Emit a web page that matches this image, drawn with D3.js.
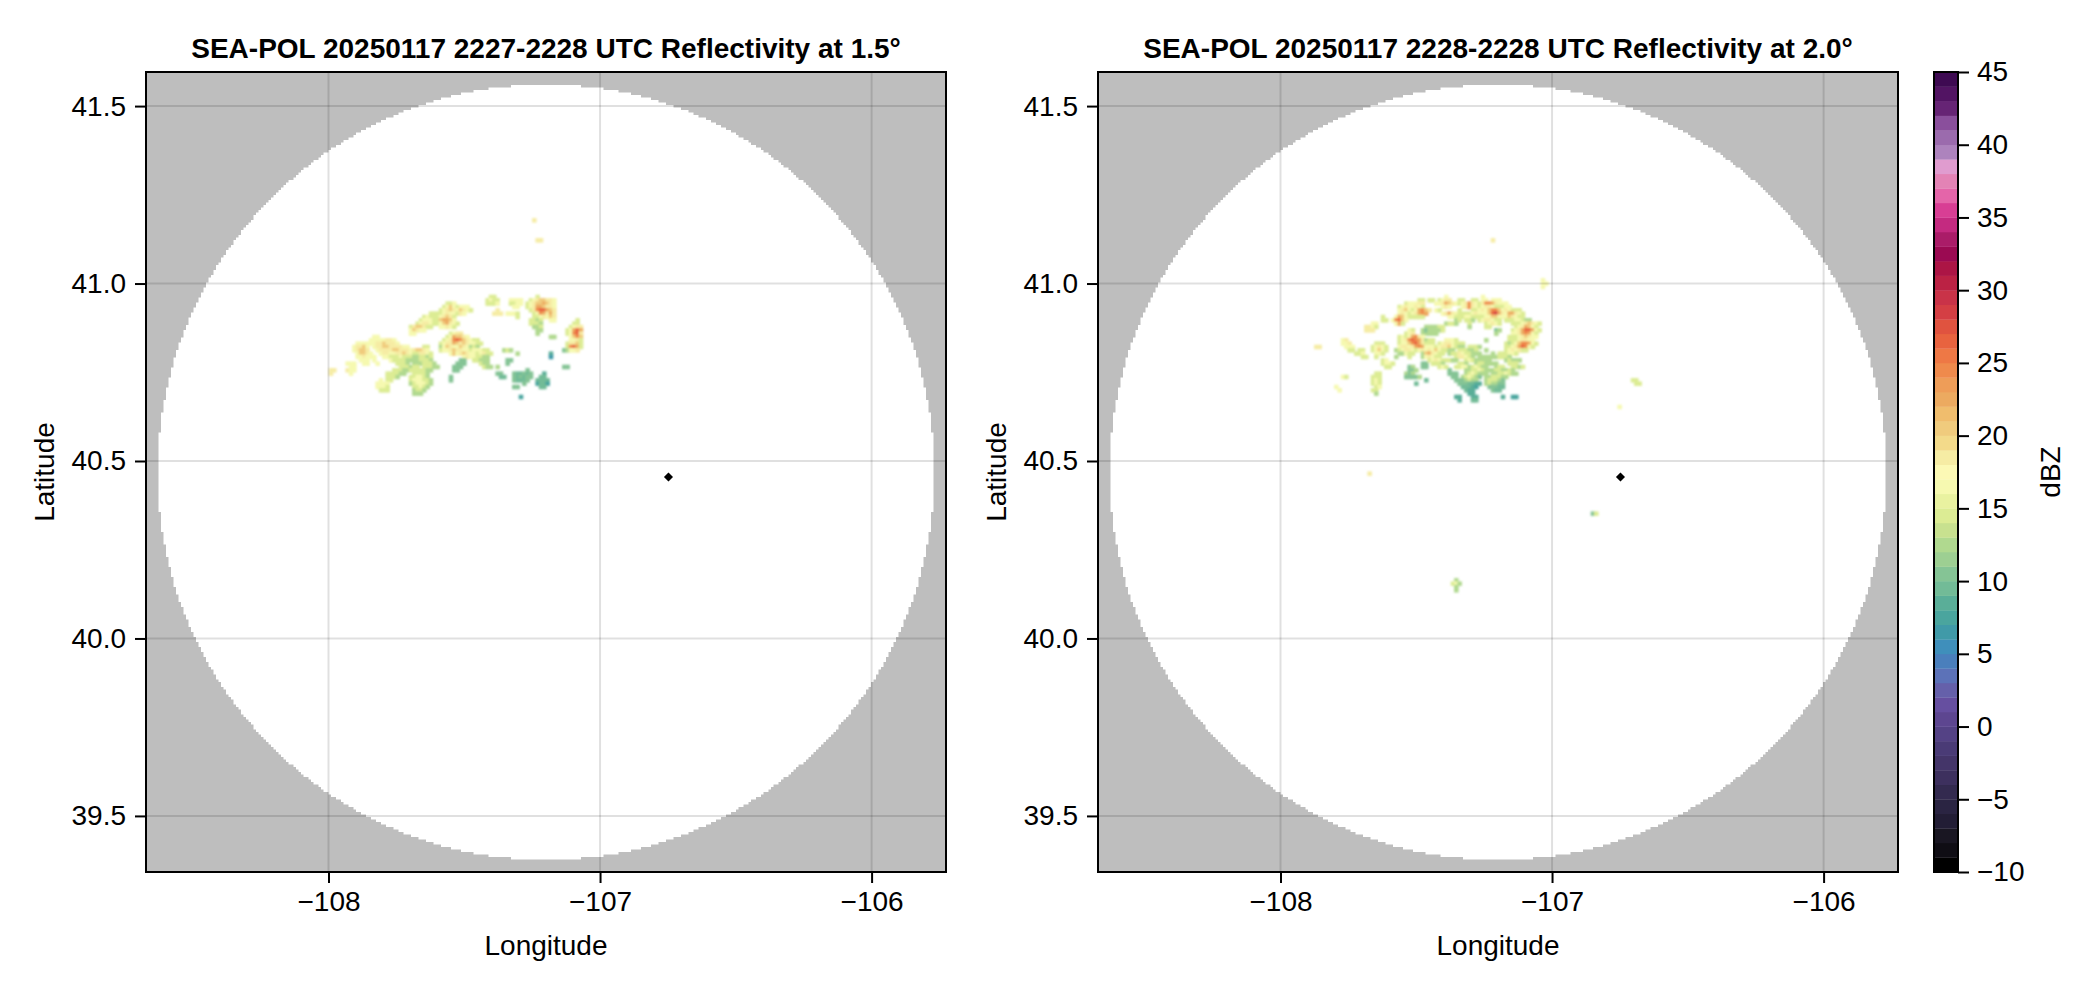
<!DOCTYPE html>
<html><head><meta charset="utf-8">
<script src="https://cdn.jsdelivr.net/npm/d3@7"></script>
<style>html,body{margin:0;background:#fff}svg{display:block}text{font-family:"Liberation Sans",Arial,sans-serif;fill:#000}</style>
</head><body><svg id="c" width="2096" height="990"><defs>
<filter id="soft" x="-5%" y="-5%" width="110%" height="110%"><feGaussianBlur stdDeviation="1.0"/></filter>
<filter id="softEdge" x="-5%" y="-5%" width="110%" height="110%"><feGaussianBlur stdDeviation="0.5"/></filter>
<clipPath id="plotClip"><rect width="800" height="800"/></clipPath>
</defs></svg>
<script>
const titles=["SEA-POL 20250117 2227-2228 UTC Reflectivity at 1.5°","SEA-POL 20250117 2228-2228 UTC Reflectivity at 2.0°"];
const lonTicks=[-108,-107,-106];
const latTicks=[39.5,40.0,40.5,41.0,41.5];
const dbzTicks=[-10,-5,0,5,10,15,20,25,30,35,40,45];
const lonDomain=[-108.672,-105.726];
const latDomain=[39.342,41.596];
const radarSite=[-106.748,40.455];
const rangeCentre=[-107.199,40.469];
const rangeLon=1.43, rangeLat=1.093;
const gridCells=240, maskCells=320;
// one colour per 1 dBZ bin, -10 upward
const binColors=["#000000","#0f0d14","#191622","#221d35","#2a2442","#332a4f","#3d305e","#443569","#4a3b76","#544285","#5d4690","#664fa0","#6560aa","#5c72b8","#4a7fbc","#3f8fbb","#409aa8","#4aa59e","#5aae98","#72bb97","#85c495","#9dcf92","#b0d98f","#c8e18f","#dcec94","#e9f2a0","#f6f9b0","#fcf9b5","#f6eca4","#f3da8a","#f0cb7d","#f0bd6d","#ecaa60","#ee9d58","#ef8a4c","#ee7845","#e8633f","#e0533f","#d43f44","#c93348","#bb2244","#ac1545","#9b0a52","#aa1c68","#c42a80","#d83e94","#e465a9","#e383b5","#e09ccf","#ad83bd","#9b6bad","#8a4f9c","#662475","#521463","#3e0a52"];
// echoes: [row, col, dBZ per cell in base-36], row/col relative to the block origin
const originA=[65,55];
const echoesA=[[-21,61,"h"],[-15,62,"hh"],
[2,48,"dd"],[2,62,"d"],
[3,47,"dfdd"],[3,54,"ffff"],[3,60,"dfhjjh"],[3,66,"hf"],
[4,35,"ddf"],[4,47,"dddf"],[4,54,"ddff"],[4,59,"dfhjjlj"],[4,66,"hf"],
[5,34,"dfjfd"],[5,39,"fff"],[5,55,"ff"],[5,59,"dfhlljh"],[5,66,"hf"],
[6,33,"dfhjhf"],[6,39,"jhfd"],[6,50,"h"],[6,60,"dhnppl"],[6,66,"jh"],
[7,30,"ddddfhffd"],[7,39,"hf"],[7,49,"hhh"],[7,53,"fff"],[7,56,"d"],[7,61,"dfnlh"],[7,66,"lh"],
[8,28,"dfdddfhjhd"],[8,56,"d"],[8,61,"ddfhf"],[8,66,"jh"],
[9,27,"dfffddjlljf"],[9,60,"ddb"],[9,63,"d"],[9,66,"ff"],[9,74,"d"],
[10,26,"dfhhfddfjlhfd"],[10,60,"dddb"],[10,73,"dd"],
[11,24,"dhjjhdd"],[11,33,"ffhfd"],[11,61,"bbd"],[11,72,"dfhh"],
[12,24,"fjhff"],[12,62,"bb"],[12,71,"dflpl"],
[13,24,"ff"],[13,36,"dfhh"],[13,62,"b"],[13,71,"dfnph"],
[14,13,"ff"],[14,35,"dfljl"],[14,39,"jhf"],[14,66,"bb"],[14,72,"fjnj"],
[15,12,"ffff"],[15,16,"fhhf"],[15,34,"dfhnpnjhfdd"],[15,72,"ffhd"],
[16,8,"ffff"],[16,12,"ffhhjhhhf"],[16,33,"dfhhljhjhffdd"],[16,71,"dhhjd"],
[17,7,"fhhjf"],[17,13,"fhhjjhhhhff"],[17,28,"dd"],[17,33,"bfjhffjhfbdb"],[17,71,"dnpld"],
[18,7,"fhjjh"],[18,14,"fhhhhjjhhhfhjjhf"],[18,33,"dffhjhhffdfffdd"],[18,52,"bdb"],[18,70,"9b"],[18,72,"ffh"],
[19,8,"fjjhf"],[19,15,"fhhffhhjhfddhhfd"],[19,36,"fjfhjhffdfhdd"],[19,56,"b"],[19,66,"7"],
[20,8,"ffhf"],[20,12,"ff"],[20,16,"ffdddfdddbbddbd"],[20,40,"fhffddbb"],[20,66,"5"],
[21,9,"fff"],[21,13,"f"],[21,18,"fddddbb"],[21,25,"bbdddb"],[21,39,"99"],[21,43,"ddbbb"],[21,53,"99"],
[22,5,"fff"],[22,10,"ff"],[22,14,"f"],[22,20,"dddb"],[22,25,"bbb"],[22,28,"dddb"],[22,38,"999"],[22,45,"dbb"],[22,53,"9"],
[23,6,"ff"],[23,21,"dddb"],[23,25,"dd"],[23,28,"dddbb"],[23,37,"999"],[23,46,"dbb"],[23,50,"b"],[23,70,"99"],
[24,0,"hh"],[24,5,"hff"],[24,19,"dddbb"],[24,24,"dddddb"],[24,30,"b"],[24,37,"99"],[24,59,"9"],
[25,0,"h"],[25,6,"f"],[25,17,"ddddbb"],[25,25,"dddd"],[25,29,"b"],[25,50,"99"],[25,55,"988989"],[25,64,"7"],
[26,17,"dddb"],[26,24,"ddffdb"],[26,36,"9"],[26,51,"88"],[26,55,"989899"],[26,63,"88"],
[27,15,"f"],[27,17,"dd"],[27,24,"dfffddb"],[27,36,"9"],[27,55,"98889"],[27,62,"8888"],
[28,14,"ffff"],[28,24,"bdfffd"],[28,30,"b"],[28,58,"9"],[28,62,"6886"],
[29,14,"fffd"],[29,25,"ddfdb"],[29,55,"99"],[29,63,"88"],
[30,15,"ddd"],[30,25,"bddb"],
[31,25,"bbb"],
[32,57,"6"]];
const originB=[62,64];
const echoesB=[[-12,54,"h"],[0,69,"f"],[1,69,"ff"],[2,69,"f"],
[6,32,"dd"],[7,28,"dff"],[7,31,"fhh"],[8,26,"dfhf"],[8,30,"fhfd"],
[9,26,"fhjf"],[9,30,"dflnn"],[10,26,"fhf"],[10,29,"dfhln"],[11,21,"d"],[11,25,"fljf"],[11,29,"ddddd"],
[12,21,"dd"],[12,24,"fnpjf"],[13,18,"ff"],[13,25,"fld"],[14,16,"hhfd"],[15,16,"hhh"],
[15,29,"fd"],[15,33,"bb"],[16,28,"dfh"],[16,33,"bb"],[17,26,"dfdflnhf"],
[18,9,"fh"],[18,26,"dfhnpnlh"],[19,9,"ffh"],[19,19,"ddd"],[19,26,"dffjnplh"],
[20,1,"hh"],[20,10,"fff"],[20,18,"dfhfd"],[20,26,"fhhfhlnl"],
[21,11,"dd"],[21,14,"dd"],[21,18,"dfjfd"],[21,25,"bdfhhfdfh"],
[22,13,"ddf"],[22,19,"ffd"],[22,26,"bbfdd"],[22,33,"bd"],
[23,15,"dd"],[23,19,"d"],[23,25,"b"],[23,29,"d"],[23,33,"b"],
[24,21,"df"],[25,21,"dffd"],[25,33,"99"],[26,22,"dd"],[26,29,"9b"],[26,33,"99"],
[27,29,"99b"],[28,19,"dd"],[28,28,"b9b"],[29,9,"fd"],[29,18,"ddd"],[29,28,"9999b"],
[30,18,"dfd"],[30,34,"8"],[31,18,"dfd"],[31,31,"8"],[32,7,"f"],[32,19,"df"],[33,8,"f"],[33,18,"dd"],[34,19,"b"],
[30,96,"dd"],[31,97,"dd"],[38,92,"f"],[70,84,"9"],[70,85,"d"],[58,17,"h"],
[90,43,"b"],[91,42,"dfb"],[92,43,"b"],[93,43,"b"]];
const originBEast=[62,98];
const echoesBEast=[[5,6,"f"],[5,17,"f"],
[6,1,"dd"],[6,4,"dfhh"],[6,10,"dd"],[6,14,"dd"],[6,17,"ff"],[6,20,"fff"],
[7,3,"ffhljhf"],[7,10,"dfhnhfdhnnlhfff"],
[8,5,"fhf"],[8,11,"fhnhfdfhhfdddff"],
[9,0,"jh"],[9,3,"fd"],[9,10,"d"],[9,14,"ddfhfjnnjfhfddd"],
[10,0,"l"],[10,5,"fhlhfd"],[10,11,"dddfhfffjprlhfllhfd"],
[11,7,"ffd"],[11,10,"ddffdddd"],[11,18,"ffjjfffjhfdd"],
[12,9,"bd"],[12,12,"ddb"],[12,16,"dfhhfdd"],[12,24,"dddffdbb"],
[13,6,"bddb"],[13,13,"d"],[13,18,"dfhfd"],[13,26,"dddfhjhfd"],
[14,0,"bbbbdd"],[14,13,"b"],[14,18,"dd"],[14,27,"dfhljfd"],
[15,0,"9bbbbd"],[15,21,"9b"],[15,26,"dfhlpplfd"],
[16,1,"bbb"],[16,21,"b"],[16,26,"ffhlnlfd"],
[17,25,"dddfhjhff"],
[18,0,"bdd"],[18,6,"fffd"],[18,18,"b"],[18,25,"dddfhhff"],
[19,0,"ddd"],[19,4,"dfhhfddd"],[19,24,"dbdfjnnlfd"],
[20,0,"fffdfhhjfdbb"],[20,13,"dddb"],[20,24,"ddfhlpnfd"],
[21,0,"fhfjfddbb"],[21,10,"dddbbd"],[21,18,"b"],[21,24,"dfhfhdd"],
[22,0,"jlhfdd"],[22,7,"bddhfddbbb"],[22,20,"b"],[22,22,"dddffd"],
[23,0,"fhfdd"],[23,9,"dhhfdb"],[23,16,"bbbbbb"],[23,22,"dddb"],
[24,1,"dfhfd"],[24,6,"ddbb"],[24,12,"dfdbbbbb"],[24,24,"bdbb"],[24,28,"b"],
[25,2,"dddb"],[25,10,"ddb"],[25,15,"bddbbbb"],[25,25,"ddd"],
[26,4,"dfd"],[26,9,"ddffbdfdbb"],[26,21,"bdd"],[26,26,"ddbd"],
[27,7,"9"],[27,12,"bbddfdbbbddbbdb"],
[28,7,"999"],[28,12,"bdfdbbb"],[28,20,"bbddfdbb"],
[29,8,"99"],[29,11,"bdfdb9"],[29,18,"bbdddbb"],
[30,9,"999"],[30,12,"bdbb"],[30,18,"bdddb9"],
[31,10,"9998877"],[31,18,"bdbb99"],
[32,11,"8887"],[32,15,"6"],[32,19,"99988"],
[33,12,"877"],[33,20,"988"],
[34,13,"77"],
[35,9,"77"],[35,14,"77"],[35,23,"7"],[35,26,"66"],
[36,10,"7"],[36,14,"88"]];

const svg=d3.select("#c");
const panels=[
 {x0:146,title:titles[0],blocks:[[originA,echoesA]]},
 {x0:1098,title:titles[1],blocks:[[originB,echoesB],[originBEast,echoesBEast]]}];
const W=800,H=800,Y0=72,FS=28;
const color=d3.scaleQuantize().domain([-10,45]).range(binColors);
const gridStroke="rgba(0,0,0,0.12)";

panels.forEach(p=>{
  const g=svg.append("g").attr("transform",`translate(${p.x0},${Y0})`);
  const x=d3.scaleLinear().domain(lonDomain).range([0,W]);
  const y=d3.scaleLinear().domain(latDomain).range([H,0]);
  const colLon=d3.scaleLinear().domain([0,gridCells]).range(lonDomain);
  const rowLat=d3.scaleLinear().domain([0,gridCells]).range([latDomain[1],latDomain[0]]);
  const mColLon=d3.scaleLinear().domain([0,maskCells]).range(lonDomain);
  const mRowLat=d3.scaleLinear().domain([0,maskCells]).range([latDomain[1],latDomain[0]]);
  // grey outside the radar range
  const mask=d3.path();
  for(let r=-4;r<maskCells+4;r++){
    const la=mRowLat(r+.5);
    let start=null;
    for(let c=-4;c<=maskCells+4;c++){
      const lo=mColLon(c+.5);
      const out=c<maskCells+4&&(((lo-rangeCentre[0])/rangeLon)**2+((la-rangeCentre[1])/rangeLat)**2>1);
      if(out&&start===null)start=c;
      if(!out&&start!==null){
        mask.rect(x(mColLon(start)),y(mRowLat(r)),x(mColLon(c))-x(mColLon(start)),y(mRowLat(r+1))-y(mRowLat(r))+.4);
        start=null;
      }
    }
  }
  g.append("g").attr("clip-path","url(#plotClip)").append("path").attr("d",mask.toString()).attr("fill","#bebebe").attr("filter","url(#softEdge)");
  // echoes
  const cells=[];
  p.blocks.forEach(([o,rows])=>rows.forEach(([r,c,s])=>{
    [...s].forEach((ch,i)=>cells.push({row:o[0]+r,col:o[1]+c+i,v:parseInt(ch,36)+1}));
  }));
  const pad=0.6;
  g.append("g").attr("filter","url(#soft)").selectAll("rect").data(cells).join("rect")
    .attr("x",d=>x(colLon(d.col))-pad).attr("y",d=>y(rowLat(d.row))-pad)
    .attr("width",d=>x(colLon(d.col+1))-x(colLon(d.col))+2*pad)
    .attr("height",d=>y(rowLat(d.row+1))-y(rowLat(d.row))+2*pad)
    .attr("fill",d=>color(d.v+.5));
  // grid
  g.append("g").selectAll("line").data(lonTicks).join("line")
    .attr("x1",d=>x(d)).attr("x2",d=>x(d)).attr("y1",0).attr("y2",H)
    .attr("stroke",gridStroke).attr("stroke-width",2);
  g.append("g").selectAll("line").data(latTicks).join("line")
    .attr("x1",0).attr("x2",W).attr("y1",d=>y(d)).attr("y2",d=>y(d))
    .attr("stroke",gridStroke).attr("stroke-width",2);
  // radar site
  g.append("path").attr("d",d3.symbol().type(d3.symbolDiamond2).size(52)())
    .attr("transform",`translate(${x(radarSite[0])},${y(radarSite[1])})`).attr("fill","#000");
  // frame
  g.append("rect").attr("width",W).attr("height",H).attr("fill","none").attr("stroke","#000").attr("stroke-width",2);
  // axes
  const ax=g.append("g").attr("transform",`translate(0,${H})`)
    .call(d3.axisBottom(x).tickValues(lonTicks).tickFormat(d3.format("d")).tickSize(11).tickPadding(8));
  const ay=g.append("g").call(d3.axisLeft(y).tickValues(latTicks).tickFormat(d3.format(".1f")).tickSize(11).tickPadding(9));
  [ax,ay].forEach(a=>{a.select(".domain").remove();a.selectAll("line").attr("stroke","#000").attr("stroke-width",2);
    a.selectAll("text").attr("font-size",FS).attr("font-family",null);});
  g.append("text").attr("x",W/2).attr("y",-24).attr("text-anchor","middle").attr("dominant-baseline","central")
    .attr("font-size",FS).attr("font-weight","bold").text(p.title);
  g.append("text").attr("x",W/2).attr("y",873).attr("text-anchor","middle").attr("dominant-baseline","central")
    .attr("font-size",FS).text("Longitude");
  g.append("text").attr("transform",`translate(-102,${H/2}) rotate(-90)`).attr("text-anchor","middle").attr("dominant-baseline","central")
    .attr("font-size",FS).text("Latitude");
});

// colour bar
const cb=svg.append("g").attr("transform",`translate(1934,${Y0})`);
const cbW=24;
const cy=d3.scaleLinear().domain([-10,45]).range([H,0]);
cb.append("g").selectAll("rect").data(binColors).join("rect")
  .attr("x",0).attr("width",cbW)
  .attr("y",(d,i)=>cy(-10+i+1)).attr("height",(d,i)=>cy(-10+i)-cy(-10+i+1)+.3)
  .attr("fill",d=>d);
cb.append("rect").attr("width",cbW).attr("height",H).attr("fill","none").attr("stroke","#000").attr("stroke-width",2);
const cax=cb.append("g").attr("transform",`translate(${cbW},0)`)
  .call(d3.axisRight(cy).tickValues(dbzTicks).tickFormat(d3.format("d")).tickSize(11).tickPadding(8));
cax.select(".domain").remove();
cax.selectAll("line").attr("stroke","#000").attr("stroke-width",2);
cax.selectAll("text").attr("font-size",FS).attr("font-family",null);
cb.append("text").attr("transform",`translate(116,${H/2}) rotate(-90)`).attr("text-anchor","middle").attr("dominant-baseline","central")
  .attr("font-size",FS).text("dBZ");
</script></body></html>
